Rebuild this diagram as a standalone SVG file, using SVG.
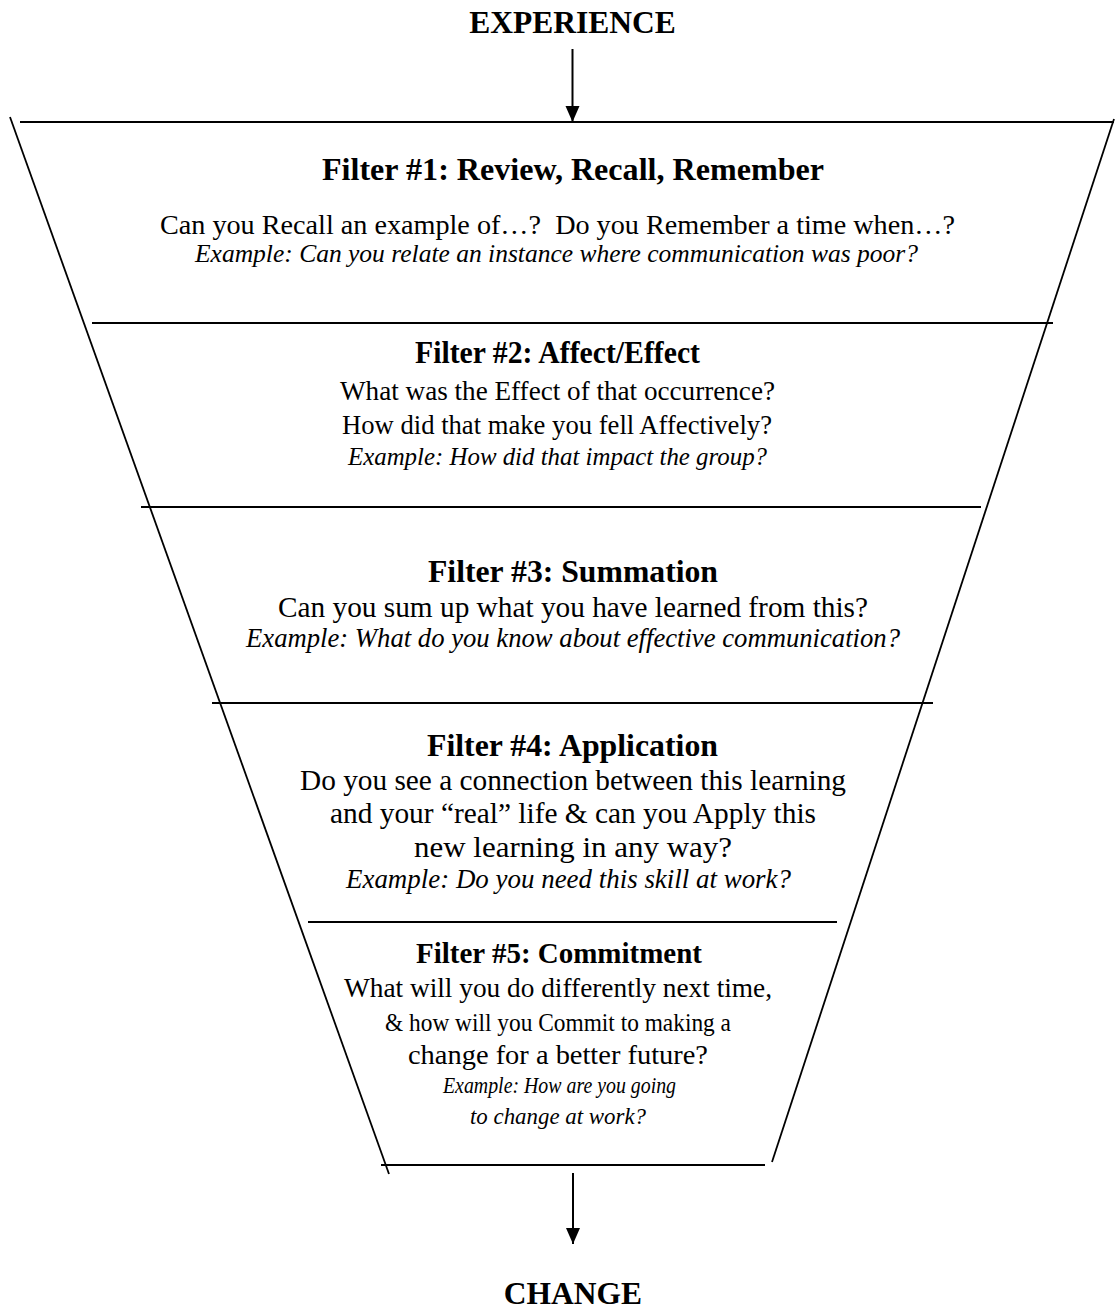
<svg xmlns="http://www.w3.org/2000/svg" width="1115" height="1311" viewBox="0 0 1115 1311">
<defs>
<style>
text{font-family:"Liberation Serif","Times New Roman",serif;fill:#000;text-anchor:middle}
.big{font-size:31.5px;font-weight:bold}
.title{font-size:31.5px;font-weight:bold}
.body{font-size:27px}
.ex{font-size:27px;font-style:italic}
.ln{stroke:#000;stroke-width:2.2;fill:none}
.side{stroke:#000;stroke-width:1.8;fill:none}
.arr{stroke:#000;stroke-width:2;fill:none}
</style>
<marker id="ah" markerUnits="userSpaceOnUse" markerWidth="16" markerHeight="16" refX="16" refY="7" orient="auto">
<path d="M0,0 L16,7 L0,14 z" fill="#000"/>
</marker>
</defs>
<rect width="1115" height="1311" fill="#fff"/>
<g id="funnel">
<line class="side" x1="10" y1="117" x2="389" y2="1174"/>
<line class="side" x1="1114" y1="119" x2="772" y2="1162"/>
<line class="ln" x1="20" y1="122" x2="1114" y2="122"/>
<line class="ln" x1="92" y1="323" x2="1053" y2="323"/>
<line class="ln" x1="141" y1="507" x2="981" y2="507"/>
<line class="ln" x1="212" y1="703" x2="933" y2="703"/>
<line class="ln" x1="308" y1="922" x2="837" y2="922"/>
<line class="ln" x1="381" y1="1165" x2="765" y2="1165"/>
</g>
<g id="connectors">
<line class="arr" x1="572.5" y1="49" x2="572.5" y2="122" marker-end="url(#ah)"/>
<line class="arr" x1="573" y1="1173" x2="573" y2="1244" marker-end="url(#ah)"/>
</g>
<g id="experience"><text class="big" x="572.5" y="33">EXPERIENCE</text></g>
<g id="change"><text class="big" x="573" y="1304">CHANGE</text></g>
<g id="filter1">
<text class="title" x="573" y="180" style="font-size:32px" textLength="502" lengthAdjust="spacingAndGlyphs">Filter #1: Review, Recall, Remember</text>
<text class="body" x="557.5" y="234" style="font-size:28px" textLength="795" lengthAdjust="spacingAndGlyphs" xml:space="preserve">Can you Recall an example of…?  Do you Remember a time when…?</text>
<text class="ex" x="556.5" y="262" style="font-size:26px" textLength="723" lengthAdjust="spacingAndGlyphs">Example: Can you relate an instance where communication was poor?</text>
</g>
<g id="filter2">
<text class="title" x="557.5" y="363" style="font-size:30.5px" textLength="285" lengthAdjust="spacingAndGlyphs">Filter #2: Affect/Effect</text>
<text class="body" x="557.5" y="400" textLength="435" lengthAdjust="spacingAndGlyphs">What was the Effect of that occurrence?</text>
<text class="body" x="557" y="434" textLength="430" lengthAdjust="spacingAndGlyphs">How did that make you fell Affectively?</text>
<text class="ex" x="557.5" y="465" style="font-size:25.5px" textLength="419" lengthAdjust="spacingAndGlyphs">Example: How did that impact the group?</text>
</g>
<g id="filter3">
<text class="title" x="573" y="582" textLength="290" lengthAdjust="spacingAndGlyphs">Filter #3: Summation</text>
<text class="body" x="573" y="617" style="font-size:29px" textLength="590" lengthAdjust="spacingAndGlyphs">Can you sum up what you have learned from this?</text>
<text class="ex" x="573" y="647" textLength="654" lengthAdjust="spacingAndGlyphs">Example: What do you know about effective communication?</text>
</g>
<g id="filter4">
<text class="title" x="572.5" y="756" textLength="291" lengthAdjust="spacingAndGlyphs">Filter #4: Application</text>
<text class="body" x="573" y="790" style="font-size:29px" textLength="546" lengthAdjust="spacingAndGlyphs">Do you see a connection between this learning</text>
<text class="body" x="573" y="823" style="font-size:29px" textLength="486" lengthAdjust="spacingAndGlyphs">and your “real” life &amp; can you Apply this</text>
<text class="body" x="573" y="857" style="font-size:29.5px" textLength="318" lengthAdjust="spacingAndGlyphs">new learning in any way?</text>
<text class="ex" x="568.5" y="888" textLength="445" lengthAdjust="spacingAndGlyphs">Example: Do you need this skill at work?</text>
</g>
<g id="filter5">
<text class="title" x="559" y="963" style="font-size:30px" textLength="286" lengthAdjust="spacingAndGlyphs">Filter #5: Commitment</text>
<text class="body" x="558" y="997" textLength="428" lengthAdjust="spacingAndGlyphs">What will you do differently next time,</text>
<text class="body" x="558" y="1031" style="font-size:26px" textLength="346" lengthAdjust="spacingAndGlyphs">&amp; how will you Commit to making a</text>
<text class="body" x="558" y="1064" style="font-size:28px" textLength="300" lengthAdjust="spacingAndGlyphs">change for a better future?</text>
<text class="ex" x="559.5" y="1093" style="font-size:24px" textLength="233" lengthAdjust="spacingAndGlyphs">Example: How are you going</text>
<text class="ex" x="558" y="1124" style="font-size:24px" textLength="176" lengthAdjust="spacingAndGlyphs">to change at work?</text>
</g>
</svg>
